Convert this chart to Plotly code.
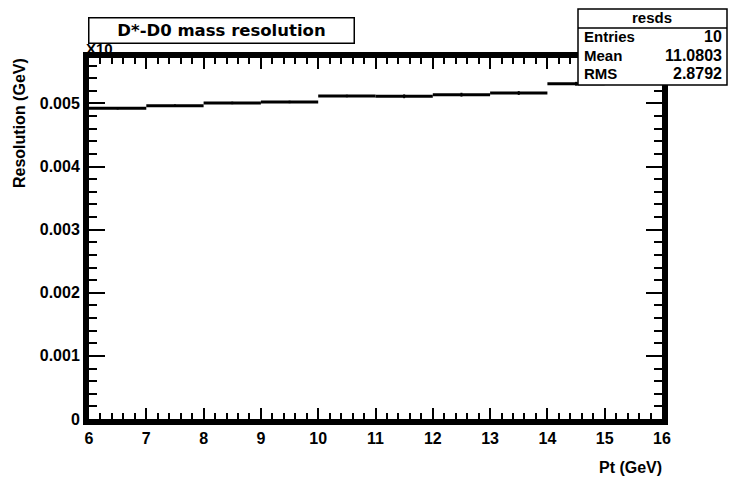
import plotly.graph_objects as go

# ---- data ----
pt_bin_low = [6, 7, 8, 9, 10, 11, 12, 13, 14, 15]
pt_bin_width = [1, 1, 1, 1, 1, 1, 1, 1, 1, 1]
resolution = [0.004924, 0.004965, 0.005008, 0.005024, 0.005118,
              0.005113, 0.005139, 0.005165, 0.005312, 0.005443]
resolution_err = [0.00002, 0.00002, 0.00002, 0.00002, 0.00002,
                  0.00003, 0.00003, 0.00003, 0.00003, 0.00003]
y_tick_vals = [0, 0.001, 0.002, 0.003, 0.004, 0.005]
y_tick_text = ["0", "0.001", "0.002", "0.003", "0.004", "0.005"]
x_tick_vals = [6, 7, 8, 9, 10, 11, 12, 13, 14, 15, 16]
stats_labels = ["Entries", "Mean", "RMS"]
stats_values = ["10", "11.0803", "2.8792"]
hist_name = "resds"
title_text = "D*-D0 mass resolution"

centers = [lo + w / 2 for lo, w in zip(pt_bin_low, pt_bin_width)]
half_w = [w / 2 for w in pt_bin_width]

W, H = 734, 480
L, R, T, B = 89, 662, 58, 419  # plot area in pixels (frame lines drawn just outside)


def px(x):
    return (x - L) / (R - L)


def py(y):
    return (B - y) / (B - T)


FONT = "Liberation Sans, Arial, sans-serif"
WIDE = "DejaVu Sans, Liberation Sans, sans-serif"

fig = go.Figure()
fig.add_trace(go.Scatter(
    x=centers, y=resolution, mode="markers",
    marker=dict(size=1, color="black"),
    error_x=dict(type="data", array=half_w, width=0, thickness=3, color="black"),
    error_y=dict(type="data", array=resolution_err, width=0, thickness=2, color="black"),
    showlegend=False, hoverinfo="skip",
))

fig.update_layout(
    width=W, height=H,
    margin=dict(l=L, r=W - R, t=T, b=H - B, pad=0),
    paper_bgcolor="white", plot_bgcolor="white",
    font=dict(family=FONT, color="black"),
    xaxis=dict(
        range=[6, 16], tickvals=x_tick_vals, showgrid=False, zeroline=False,
        showline=True, linewidth=6, linecolor="black", mirror="allticks",
        ticks="inside", ticklen=11, tickwidth=2, tickcolor="black",
        minor=dict(dtick=0.2, ticks="inside", ticklen=6, tickwidth=2, tickcolor="black"),
        tickfont=dict(size=16, family=FONT, weight="bold"),
    ),
    yaxis=dict(
        range=[0, 0.00572], tickvals=y_tick_vals, ticktext=y_tick_text,
        showgrid=False, zeroline=False,
        showline=True, linewidth=6, linecolor="black", mirror="allticks",
        ticks="inside", ticklen=16, tickwidth=2, tickcolor="black",
        minor=dict(dtick=0.0002, ticks="inside", ticklen=8, tickwidth=2, tickcolor="black"),
        tickfont=dict(size=16, family=FONT, weight="bold"),
    ),
)

annotations = []
# "X10" exponent label, partly under the title box
annotations.append(dict(xref="paper", yref="paper", x=px(84), y=py(48),
                        xanchor="left", yanchor="middle", showarrow=False,
                        text="<b>X10</b>", font=dict(size=15, family=FONT)))
# title box
annotations.append(dict(xref="paper", yref="paper", x=px(221), y=py(30),
                        xanchor="center", yanchor="middle", showarrow=False,
                        text="<b>" + title_text + "</b>", font=dict(size=16.5, family=WIDE),
                        bgcolor="white", bordercolor="black", borderwidth=1.5,
                        borderpad=0, width=264, height=24))
# axis titles
annotations.append(dict(xref="paper", yref="paper", x=px(20), y=py(123),
                        xanchor="center", yanchor="middle", showarrow=False, textangle=-90,
                        text="<b>Resolution (GeV)</b>", font=dict(size=16, family=FONT)))
annotations.append(dict(xref="paper", yref="paper", x=px(664), y=py(467),
                        xanchor="right", yanchor="middle", showarrow=False,
                        text="<b>Pt (GeV)</b>", font=dict(size=16, family=FONT)))
# stats box text
annotations.append(dict(xref="paper", yref="paper", x=px(652), y=py(18),
                        xanchor="center", yanchor="middle", showarrow=False,
                        text="<b>" + hist_name + "</b>", font=dict(size=15, family=FONT)))
row_y = [37, 55, 73]
for lab, val, yy in zip(stats_labels, stats_values, row_y):
    annotations.append(dict(xref="paper", yref="paper", x=px(582), y=py(yy),
                            xanchor="left", yanchor="middle", showarrow=False,
                            text="<b>" + lab + "</b>", font=dict(size=15, family=FONT)))
    annotations.append(dict(xref="paper", yref="paper", x=px(724), y=py(yy),
                            xanchor="right", yanchor="middle", showarrow=False,
                            text="<b>" + val + "</b>", font=dict(size=16, family=FONT)))

shapes = [
    dict(type="rect", xref="paper", yref="paper", x0=px(578), x1=px(727),
         y0=py(85), y1=py(9), fillcolor="white", line=dict(color="black", width=1.5),
         layer="above"),
    dict(type="line", xref="paper", yref="paper", x0=px(578), x1=px(727),
         y0=py(28), y1=py(28), line=dict(color="black", width=1.5), layer="above"),
]

fig.update_layout(annotations=annotations, shapes=shapes)
fig.write_html("out.html",
               config={"displayModeBar": False},
               post_script="document.body.style.margin='0';document.body.style.padding='0';")
